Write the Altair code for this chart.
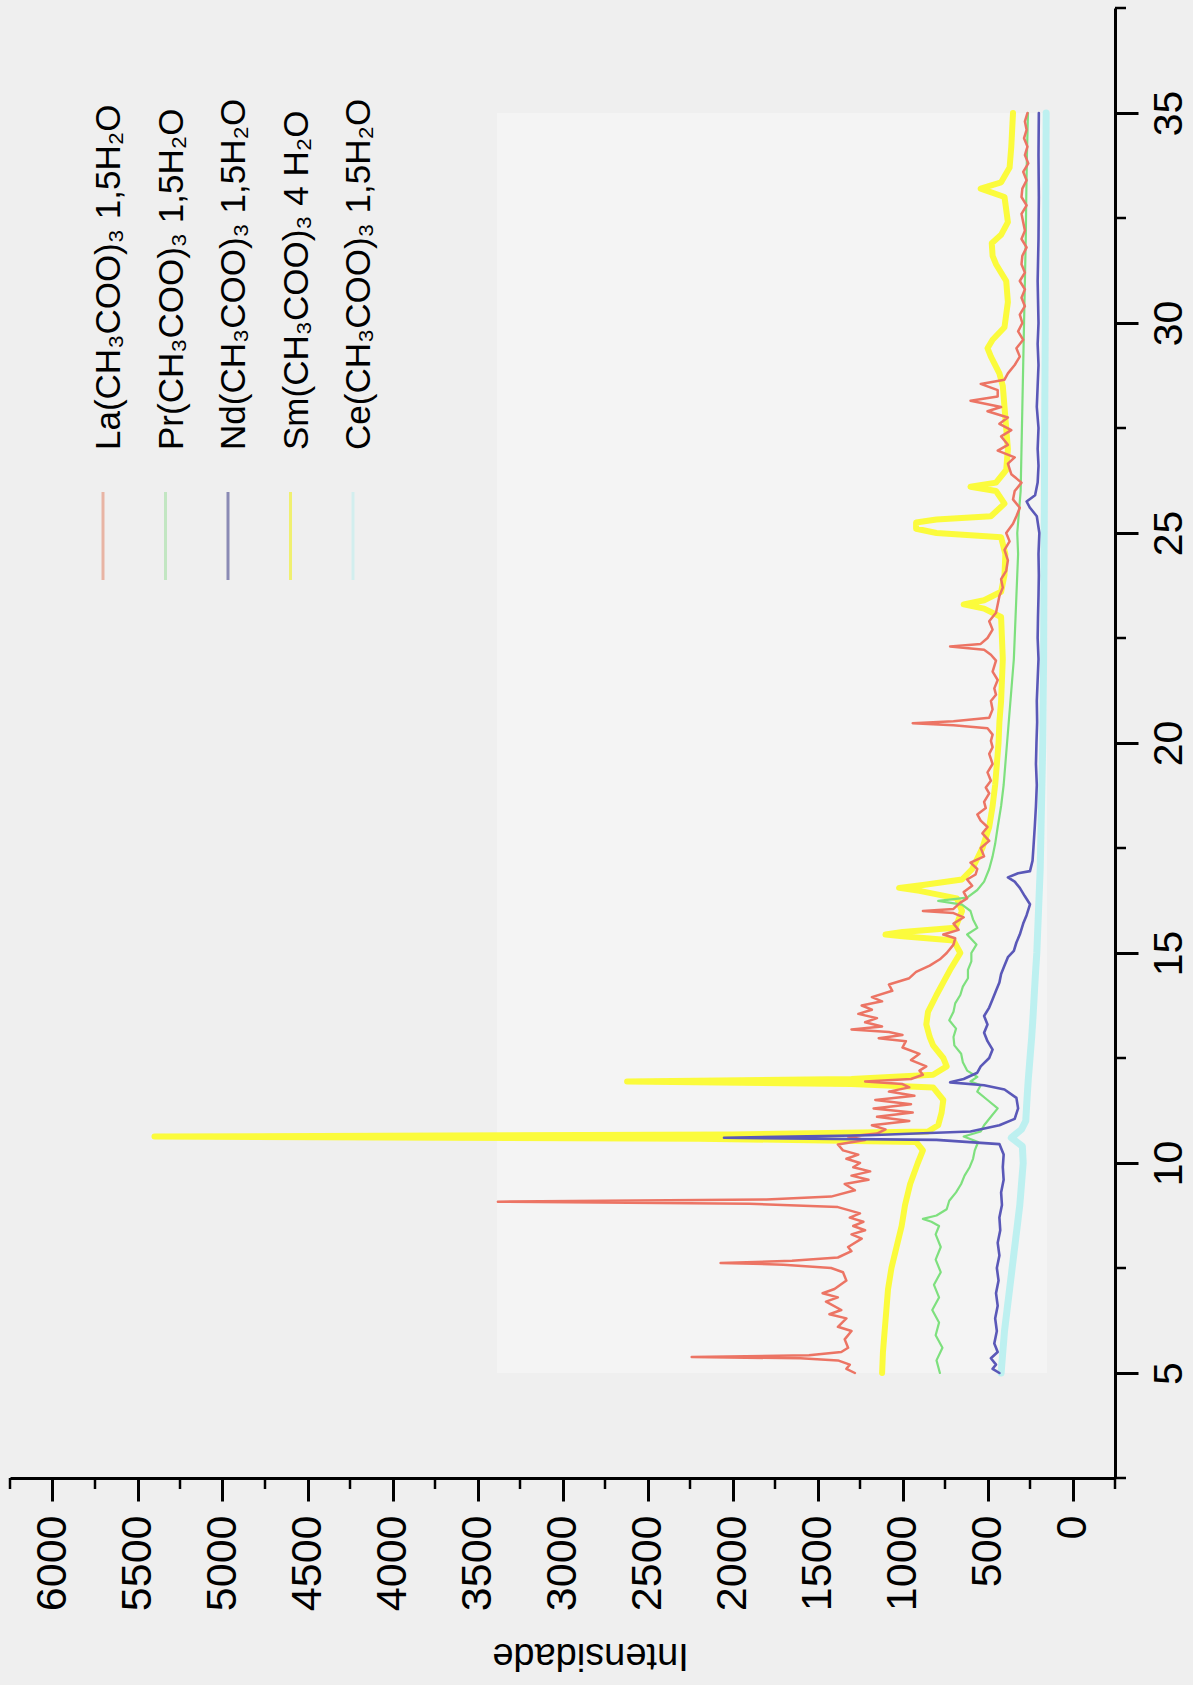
import altair as alt
import pandas as pd

# ---------------- data (2theta, intensity) ----------------
la_tt = [5.0,5.1,5.2,5.3,5.35,5.38,5.42,5.5,5.6,5.8,6.0,6.1,6.3,6.4,6.5,6.7,6.8,6.9,7.0,7.2,7.4,7.5,7.58,7.62,7.67,7.75,7.9,8.0,8.2,8.3,8.4,8.5,8.6,8.7,8.8,8.95,9.03,9.08,9.13,9.2,9.35,9.5,9.6,9.7,9.8,9.9,10.0,10.1,10.2,10.3,10.44,10.55,10.63,10.7,10.8,10.9,11.0,11.1,11.2,11.3,11.4,11.5,11.6,11.7,11.8,11.88,11.94,12.0,12.1,12.2,12.3,12.45,12.6,12.75,12.9,12.97,13.05,13.12,13.18,13.25,13.35,13.45,13.55,13.65,13.75,13.85,13.95,14.1,14.25,14.4,14.55,14.7,14.85,15.0,15.2,15.35,15.44,15.55,15.7,15.85,15.95,16.0,16.05,16.2,16.3,16.45,16.6,16.75,16.87,17.0,17.15,17.3,17.5,17.67,17.85,18.0,18.15,18.3,18.45,18.6,18.8,18.94,19.1,19.3,19.5,19.74,19.9,20.05,20.2,20.35,20.42,20.47,20.52,20.6,20.8,21.0,21.15,21.3,21.5,21.7,21.96,22.1,22.22,22.3,22.36,22.5,22.7,22.9,23.1,23.3,23.5,23.7,23.9,24.1,24.35,24.6,24.8,25.0,25.22,25.4,25.6,25.8,26.0,26.2,26.4,26.65,26.8,26.96,27.1,27.3,27.45,27.6,27.75,27.9,28.0,28.15,28.25,28.4,28.55,28.65,28.8,29.0,29.2,29.4,29.6,29.8,30.0,30.2,30.4,30.6,30.8,31.0,31.2,31.4,31.6,31.8,32.0,32.2,32.4,32.6,32.8,33.0,33.2,33.4,33.6,33.8,34.0,34.2,34.4,34.6,34.8,35.0]
la_int = [1280,1330,1310,1380,1600,2240,1550,1360,1320,1340,1300,1380,1330,1430,1360,1450,1380,1470,1400,1330,1350,1420,1700,2070,1650,1380,1300,1320,1240,1300,1220,1290,1230,1310,1250,1380,1900,3380,1800,1420,1280,1340,1200,1300,1190,1290,1250,1330,1260,1350,1380,1220,1320,1150,1100,1180,960,1150,940,1170,950,1160,930,1080,960,1000,1220,950,880,900,860,950,900,1000,980,1140,1000,1080,1300,1120,1220,1150,1260,1180,1240,1120,1180,1060,1080,960,920,840,780,740,700,690,760,670,700,640,700,880,700,660,620,640,590,620,570,560,600,520,540,490,530,500,540,560,510,520,490,510,480,500,470,490,470,480,470,500,700,940,700,490,470,480,450,460,440,470,450,480,520,720,540,500,470,490,450,440,430,410,420,390,380,400,370,390,350,330,310,350,340,300,360,380,340,440,380,420,360,430,380,500,420,600,440,440,540,400,380,340,310,330,290,320,295,310,280,300,280,310,280,300,295,270,300,280,290,300,270,300,295,270,290,260,280,265,285,270,280,265]

pr_tt = [5.0,5.3,5.6,5.9,6.2,6.5,6.8,7.1,7.4,7.7,8.0,8.3,8.5,8.6,8.67,8.75,8.9,9.1,9.3,9.5,9.7,9.9,10.1,10.3,10.5,10.63,10.75,10.9,11.1,11.3,11.5,11.7,11.85,11.94,12.05,12.2,12.4,12.6,12.8,13.0,13.2,13.4,13.6,13.8,14.0,14.2,14.4,14.6,14.8,15.0,15.2,15.44,15.6,15.8,16.0,16.15,16.24,16.32,16.5,16.7,17.0,17.3,17.6,18.0,18.5,19.0,19.5,20.0,20.5,21.0,21.5,22.0,22.5,23.0,23.5,24.0,24.5,25.0,25.5,26.0,27.0,28.0,29.0,30.0,31.0,32.0,33.0,34.0,35.0]
pr_int = [780,800,765,805,785,825,785,815,775,805,775,805,785,830,880,800,740,725,685,655,635,605,585,575,555,640,540,520,480,440,500,560,540,600,560,620,645,655,695,700,685,725,700,690,660,645,615,615,595,595,565,620,560,585,600,650,790,620,560,520,490,470,455,440,420,405,395,385,375,365,355,345,340,335,330,325,320,325,315,305,300,295,290,285,280,275,272,268,262]

nd_tt = [5.0,5.1,5.2,5.35,5.5,5.7,6.0,6.3,6.6,6.9,7.2,7.5,7.8,8.1,8.4,8.7,9.0,9.3,9.6,9.9,10.2,10.45,10.55,10.6,10.66,10.75,10.9,11.05,11.3,11.55,11.75,11.85,11.92,12.0,12.15,12.3,12.5,12.7,12.9,13.1,13.3,13.5,13.7,13.9,14.1,14.3,14.5,14.7,14.9,15.05,15.25,15.44,15.7,15.9,16.16,16.35,16.55,16.7,16.8,16.9,16.95,17.2,17.5,18.0,18.5,19.0,19.5,20.0,20.5,21.0,21.5,22.0,22.5,23.0,23.5,24.0,24.5,25.0,25.4,25.6,25.75,25.9,26.2,26.6,27.0,27.5,28.0,28.5,29.0,29.5,30.0,31.0,32.0,33.0,34.0,35.0]
nd_int = [430,470,450,480,440,460,445,455,440,450,435,445,430,440,425,430,415,420,405,410,405,430,800,2050,1200,600,430,340,320,330,400,520,720,640,560,540,490,470,500,520,500,520,490,470,450,430,420,400,380,345,330,310,290,270,250,280,310,340,380,320,250,235,230,222,215,210,215,212,208,210,205,200,205,203,200,198,200,195,210,250,270,220,205,200,205,200,210,205,200,205,200,205,200,198,200,198]

sm_tt = [5.0,5.5,6.0,6.5,7.0,7.5,8.0,8.5,9.0,9.5,10.0,10.3,10.5,10.58,10.63,10.68,10.75,10.9,11.2,11.5,11.8,11.88,11.94,12.0,12.1,12.3,12.5,12.8,13.0,13.3,13.6,14.0,14.3,14.6,15.0,15.3,15.4,15.44,15.5,15.6,16.0,16.3,16.48,16.55,16.62,16.75,17.0,17.5,18.0,18.5,19.0,19.5,20.0,20.5,21.0,21.5,22.0,22.5,23.0,23.2,23.3,23.4,23.6,24.0,24.5,24.9,25.0,25.1,25.25,25.32,25.4,25.7,26.0,26.1,26.2,26.5,27.0,27.5,28.0,28.5,28.8,29.2,29.4,29.6,29.9,30.5,31.0,31.4,31.6,31.9,32.1,32.4,33.0,33.2,33.35,33.7,34.2,34.6,35.0]
sm_int = [1120,1115,1105,1095,1085,1065,1035,1005,985,955,910,880,920,2200,5400,2000,850,790,770,760,820,1300,2620,1300,820,740,760,820,840,860,850,800,760,720,660,700,1000,1100,1000,690,650,680,900,1020,880,650,590,530,490,470,455,445,435,430,420,415,410,415,420,520,640,520,420,400,395,420,800,920,920,800,480,400,450,600,450,390,380,390,400,410,430,480,500,470,400,380,390,450,470,475,420,380,400,540,420,370,360,355,350]

ce_tt = [5.0,5.5,6.0,6.5,7.0,7.5,8.0,8.5,9.0,9.5,10.0,10.4,10.6,10.8,11.0,11.5,12.0,12.5,13.0,13.5,14.0,14.5,15.0,16.0,17.0,18.0,19.0,20.0,22.0,24.0,26.0,28.0,30.0,32.0,35.0]
ce_int = [420,410,400,385,370,355,340,325,310,300,290,295,360,300,275,268,260,250,240,232,225,218,210,200,190,185,180,175,170,168,165,163,160,158,155]

names = ["La", "Pr", "Nd", "Sm", "Ce"]
legend_labels = ["La(CH₃COO)₃ 1,5H₂O", "Pr(CH₃COO)₃ 1,5H₂O", "Nd(CH₃COO)₃ 1,5H₂O",
                 "Sm(CH₃COO)₃ 4 H₂O", "Ce(CH₃COO)₃ 1,5H₂O"]
line_colors = ["#ec7464", "#7ee07e", "#5a58b8", "#fbfb3c", "#bdf0f0"]
legend_colors = ["#e8b4a4", "#c2e6c2", "#8a8ab4", "#f0f070", "#d2eeee"]
line_widths = [2.5, 2.2, 2.6, 6.0, 7.0]

x_major = list(range(0, 6001, 500))
x_minor = list(range(-250, 6251, 500))
y_major = [5, 10, 15, 20, 25, 30, 35]
y_minor = [2.5, 7.5, 12.5, 17.5, 22.5, 27.5, 32.5, 37.5]

# ---------------- layout ----------------
W, H = 1105, 1470
FONT = "Liberation Sans"

xscale = alt.Scale(domain=[-250, 6250], reverse=True, nice=False, zero=False)
yscale = alt.Scale(domain=[2.5, 37.5], nice=False, zero=False)

xaxis = alt.Axis(values=x_major, orient="bottom", title="Intensidade", grid=False, format="d",
                 domainColor="black", domainWidth=3, tickColor="black", tickWidth=3, tickSize=23,
                 labelAngle=270, labelAlign="right", labelBaseline="middle", labelPadding=14,
                 labelFont=FONT, labelFontSize=43, labelColor="black",
                 titleFont=FONT, titleFontSize=38, titleFontWeight="normal", titleColor="black",
                 titleAngle=180, titleBaseline="bottom", titleAlign="center", titleX=580, titleY=157)
yaxis = alt.Axis(values=y_major, orient="right", title=None, grid=False, format="d",
                 domainColor="black", domainWidth=3, tickColor="black", tickWidth=3, tickSize=23,
                 labelAngle=270, labelAlign="center", labelBaseline="top", labelPadding=11,
                 labelFont=FONT, labelFontSize=41, labelColor="black")


def X(field):
    return alt.X(field, type="quantitative", scale=xscale, axis=xaxis)


def Y(field):
    return alt.Y(field, type="quantitative", scale=yscale, axis=yaxis)


layers = []

# faint lighter panel behind the traces
panel = pd.DataFrame({"i0": [3385], "i1": [150], "t0": [5], "t1": [35]})
layers.append(alt.Chart(panel).mark_rect(color="#f4f4f4").encode(
    x=X("i0"), x2="i1", y=Y("t0"), y2="t1"))

series = {
    "La": (la_tt, la_int),
    "Pr": (pr_tt, pr_int),
    "Nd": (nd_tt, nd_int),
    "Sm": (sm_tt, sm_int),
    "Ce": (ce_tt, ce_int),
}
draw_order = ["Ce", "Sm", "Pr", "La", "Nd"]
for nm in draw_order:
    k = names.index(nm)
    tt, it = series[nm]
    df = pd.DataFrame({"tt": tt, "inten": it})
    layers.append(alt.Chart(df).mark_line(color=line_colors[k], strokeWidth=line_widths[k],
                                          strokeJoin="round", strokeCap="round").encode(
        x=X("inten"), y=Y("tt"), order=alt.Order("tt:Q")))

# minor ticks
mx = pd.DataFrame({"v": x_minor})
layers.append(alt.Chart(mx).mark_rule(color="black", strokeWidth=2.5).encode(
    x=X("v"), y=alt.value(H), y2=alt.value(H + 11)))
my = pd.DataFrame({"v": y_minor})
layers.append(alt.Chart(my).mark_rule(color="black", strokeWidth=2.5).encode(
    y=Y("v"), x=alt.value(W), x2=alt.value(W + 11)))

# legend (drawn manually so the texts can be rotated like the original)
leg = pd.DataFrame({
    "label": legend_labels,
    "col": legend_colors,
    "lx": [93 + 62.5 * i for i in range(5)],
})
leg["tx"] = leg["lx"] + 17
leg["ly1"] = 484
leg["ly2"] = 572
leg["ty"] = 442
layers.append(alt.Chart(leg).mark_rule(strokeWidth=3).encode(
    x=alt.X("lx:Q", scale=None, axis=None), y=alt.Y("ly1:Q", scale=None, axis=None),
    y2="ly2:Q", color=alt.Color("col:N", scale=None)))
layers.append(alt.Chart(leg).mark_text(angle=270, align="left", baseline="alphabetic",
                                       font=FONT, fontSize=35, color="black").encode(
    x=alt.X("tx:Q", scale=None, axis=None), y=alt.Y("ty:Q", scale=None, axis=None),
    text="label:N"))

chart = alt.layer(*layers).properties(
    width=W, height=H,
    autosize=alt.AutoSizeParams(type="none"),
    padding={"left": 10, "top": 8, "right": 78, "bottom": 207},
    background="#efefef",
).configure_view(stroke=None)

chart.save("out.html", embed_options={"renderer": "svg", "actions": False})
